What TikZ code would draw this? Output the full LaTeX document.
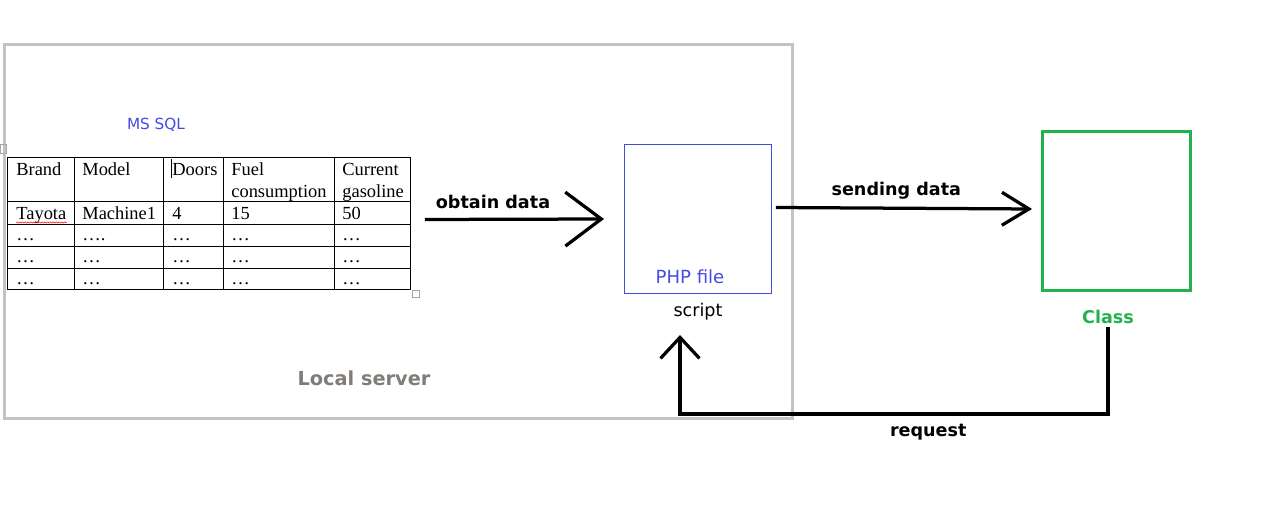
\documentclass[tikz,border=0pt]{standalone}
\usepackage{fontspec}
\setmainfont{Liberation Serif}
\newfontfamily\uifont{DejaVu Sans}
\usetikzlibrary{arrows.meta, positioning, decorations.pathmorphing}
\definecolor{srvgray}{RGB}{195,195,195}
\definecolor{srvtext}{RGB}{128,124,120}
\definecolor{sqlblue}{RGB}{68,76,222}
\definecolor{clsgreen}{RGB}{34,177,76}
\tikzset{
  cell/.style={anchor=base west, inner sep=0pt, font=\rmfamily\fontsize{10.5}{12.5}\selectfont},
  flowlabel/.style={font=\uifont\bfseries\fontsize{10}{12}\selectfont},
  flow/.style={line width=0.065cm},
  handle/.style={draw=gray!70, line width=0.4pt}
}
\begin{document}
\begin{tikzpicture}[x=0.02cm, y=-0.02cm, font=\uifont\fontsize{10}{12}\selectfont]
\useasboundingbox (0,0) rectangle (1261,512);
% ---------------- local server ----------------
\node[draw=srvgray, line width=0.06cm, minimum width=15.76cm, minimum height=7.48cm,
      anchor=north west, inner sep=0pt] (server) at (3,43) {};
\node[flowlabel, text=srvtext, font=\uifont\bfseries\fontsize{11}{13}\selectfont]
      (srvlbl) at (364,378) {Local server};
\node[text=sqlblue, font=\uifont\fontsize{8.7}{10}\selectfont] (sql) at (156,125) {MS SQL};
% ---------------- table ----------------
\node[draw, line width=0.02cm, minimum width=8.06cm, minimum height=2.64cm,
      anchor=north west, inner sep=0pt] (tbl) at (7,157) {};
\foreach \x in {74,163,223,334}
  \draw[line width=0.02cm] (\x,157) -- (\x,289);
\foreach \y in {201,224,246,268}
  \draw[line width=0.02cm] (7,\y) -- (410,\y);
\draw[handle] (0,144) rectangle (6,153);     % move handle
\draw[handle] (412,290) rectangle (419,297); % resize handle
% header
\foreach \x/\t [count=\i] in {16/Brand, 82/Model, 172/Doors, 231/Fuel, 342/Current}
  \node[cell] (head\i) at (\x,175) {\t};
\node[cell] (head4b) at (231,197) {consumption};
\node[cell] (head5b) at (342,197) {gasoline};
\draw[line width=0.3pt] ([xshift=-0.3pt]head3.base west) ++(0,3) -- ++(0,-19); % caret
% data
\foreach \x/\t [count=\i] in {16/Tayota, 82/Machine1, 172/4, 231/15, 342/50}
  \node[cell] (row\i) at (\x,219) {\t};
\draw[red, line width=0.3pt, decorate, decoration={snake, amplitude=0.35pt, segment length=1.6pt}]
  ([yshift=-0.07cm]row1.base west) -- ([yshift=-0.07cm]row1.base east);
\foreach \y/\m [count=\j] in {240/{\dots.}, 262/\dots, 284/\dots}
  \foreach \x/\t [count=\i] in {16/\dots, 82/\m, 172/\dots, 231/\dots, 342/\dots}
    \node[cell] (dot\j\i) at (\x,\y) {\t};
% ---------------- PHP file ----------------
\node[draw=sqlblue, line width=0.02cm, minimum width=2.94cm, minimum height=2.98cm,
      anchor=north west, inner sep=0pt] (php) at (624,144) {};
\node[text=sqlblue, font=\uifont\fontsize{10.3}{12}\selectfont] (phplbl) at (690,277) {PHP file};
\node (script) at (698,312) {script};
% ---------------- class ----------------
\node[draw=clsgreen, line width=0.06cm, minimum width=2.96cm, minimum height=3.18cm,
      anchor=north west, inner sep=0pt] (cls) at (1041,130) {};
\node[flowlabel, text=clsgreen] (clslbl) at (1108,317) {Class};
% ---------------- flows ----------------
\draw[flow, -{Straight Barb[length=0.72cm, width=1.08cm]}]
  ([xshift=0.28cm, yshift=0.08cm]tbl.east) -- ([xshift=-0.4cm]php.west)
  node[flowlabel, pos=0.38, above=1.6pt] (obtain) {obtain data};
\draw[flow, -{Straight Barb[length=0.54cm, width=0.66cm]}]
  ([xshift=0.08cm, yshift=0.23cm]php.east) -- ([xshift=-0.18cm, yshift=0.04cm]cls.west)
  node[flowlabel, pos=0.47, above=1pt] (sending) {sending data};
\coordinate (reqturn) at (680,414);
\coordinate (reqtip) at (680,335);
\draw[flow, -{Straight Barb[length=0.42cm, width=0.78cm]}]
  ([yshift=0.06cm]clslbl.south) |- node[flowlabel, pos=0.71, below=1.5pt] (request) {request}
  (reqturn) -- (reqtip);
\end{tikzpicture}
\end{document}
